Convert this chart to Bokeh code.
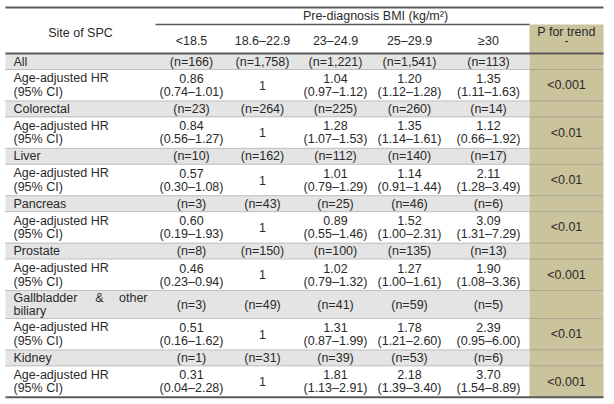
from bokeh.plotting import figure
from bokeh.models import Range1d, ColumnDataSource
from bokeh.core.properties import value
from bokeh.embed import file_html
from bokeh.resources import INLINE

# ---------------- data ----------------
sites = ["All", "Colorectal", "Liver", "Pancreas", "Prostate",
         "Gallbladder & other biliary", "Kidney"]
bmi_categories = ["<18.5", "18.6\u201322.9", "23\u201324.9", "25\u201329.9", "\u226530"]
n_counts = [
    [166, 1758, 1221, 1541, 113],
    [23, 264, 225, 260, 14],
    [10, 162, 112, 140, 17],
    [3, 43, 25, 46, 6],
    [8, 150, 100, 135, 13],
    [3, 49, 41, 59, 5],
    [1, 31, 39, 53, 6],
]
hr_values = [
    [0.86, 1, 1.04, 1.20, 1.35],
    [0.84, 1, 1.28, 1.35, 1.12],
    [0.57, 1, 1.01, 1.14, 2.11],
    [0.60, 1, 0.89, 1.52, 3.09],
    [0.46, 1, 1.02, 1.27, 1.90],
    [0.51, 1, 1.31, 1.78, 2.39],
    [0.31, 1, 1.81, 2.18, 3.70],
]
ci_lower = [
    [0.74, None, 0.97, 1.12, 1.11],
    [0.56, None, 1.07, 1.14, 0.66],
    [0.30, None, 0.79, 0.91, 1.28],
    [0.19, None, 0.55, 1.00, 1.31],
    [0.23, None, 0.79, 1.00, 1.08],
    [0.16, None, 0.87, 1.21, 0.95],
    [0.04, None, 1.13, 1.39, 1.54],
]
ci_upper = [
    [1.01, None, 1.12, 1.28, 1.63],
    [1.27, None, 1.53, 1.61, 1.92],
    [1.08, None, 1.29, 1.44, 3.49],
    [1.93, None, 1.46, 2.31, 7.29],
    [0.94, None, 1.32, 1.61, 3.36],
    [1.62, None, 1.99, 2.60, 6.00],
    [2.28, None, 2.91, 3.40, 8.89],
]
p_trend = ["<0.001", "<0.01", "<0.01", "<0.01", "<0.001", "<0.01", "<0.001"]

header_site = "Site of SPC"
header_bmi = "Pre-diagnosis BMI (kg/m\u00b2)"
header_p = "P for trend"
hr_label = ["Age-adjusted HR", "(95% CI)"]

# ---------------- layout ----------------
FONT = value("Liberation Sans")
TXT = "#2a2a2a"
FS = "12.5px"
LINE = "#5a5a5a"
TAN = "#cbc39c"
GRAY = "#e4e4e4"
DOT = "#8c8c8c"

W, H = 614, 404
X0, X1 = 5, 603
col_edges = [155, 226, 298, 372, 447, 529]
col_centers = [191, 262, 335, 409, 488]
p_center = 566
site_text_x = 13
site_text_right = 147

Y_TOP = 7
Y_BMI_LINE = 24
Y_HEAD = 53
N_H = 16
N_H2 = 28
HR_H = 31.4
LINE_GAP = 13.5

p = figure(width=W, height=H, x_range=Range1d(0, W), y_range=Range1d(H, 0),
           output_backend="svg", toolbar_location=None,
           x_axis_location=None, y_axis_location=None, min_border=0)
p.xgrid.visible = False
p.ygrid.visible = False
p.outline_line_color = None
p.background_fill_color = "white"
p.border_fill_color = "white"

# rows geometry
rows = []
y = Y_HEAD
for i, s in enumerate(sites):
    h = N_H2 if len(s) > 20 else N_H
    rows.append((y, y + h, y + h, y + h + HR_H))
    y += h + HR_H
Y_BOT = y

# backgrounds
gq = dict(left=[], right=[], top=[], bottom=[])
for (a, b, c, d) in rows:
    gq["left"].append(X0); gq["right"].append(col_edges[-1])
    gq["top"].append(a); gq["bottom"].append(b)
p.quad(source=ColumnDataSource(gq), left="left", right="right", top="top", bottom="bottom",
       fill_color=GRAY, line_color=None)
p.quad(left=[col_edges[-1]], right=[X1], top=[Y_BMI_LINE], bottom=[Y_BOT],
       fill_color=TAN, line_color=None)

# dotted separators
dy = []
for (a, b, c, d) in rows:
    dy.append(b)
for (a, b, c, d) in rows[1:]:
    dy.append(a)
p.segment(x0=[X0] * len(dy), x1=[X1] * len(dy), y0=dy, y1=dy,
          line_color=DOT, line_width=1, line_dash="1 1")

# solid rules
p.segment(x0=[X0, X0, X0], x1=[X1, X1, X1], y0=[Y_TOP, Y_HEAD, Y_BOT], y1=[Y_TOP, Y_HEAD, Y_BOT],
          line_color=LINE, line_width=2)
p.segment(x0=[col_edges[0]], x1=[col_edges[-1]], y0=[Y_BMI_LINE], y1=[Y_BMI_LINE],
          line_color=LINE, line_width=1.5)

# text collectors
T = dict(x=[], y=[], t=[], align=[])
def add(x, yy, t, align="center"):
    T["x"].append(x); T["y"].append(yy); T["t"].append(t); T["align"].append(align)

# headers
add((X0 + col_edges[0]) / 2, 32, header_site)
add(375, 15.5, header_bmi)
for cx, lab in zip(col_centers, bmi_categories):
    add(cx, 40, lab)
add(p_center, 31, header_p)
add(p_center, 40, "-")

def fmt(v):
    return "1" if v == 1 else f"{v:.2f}"

for i, (a, b, c, d) in enumerate(rows):
    s = sites[i]
    words = s.split()
    if len(s) > 20:
        first = words[:3]
        rest = " ".join(words[3:])
        add(site_text_x, a + 7.5, first[0], "left")
        add(99, a + 7.5, first[1], "center")
        add(site_text_right, a + 7.5, first[2], "right")
        add(site_text_x, a + 20.5, rest, "left")
    else:
        add(site_text_x, (a + b) / 2, s, "left")
    for j, cx in enumerate(col_centers):
        add(cx, (a + b) / 2, f"(n={n_counts[i][j]:,})")
    mid = (c + d) / 2
    add(site_text_x, mid - LINE_GAP / 2, hr_label[0], "left")
    add(site_text_x, mid + LINE_GAP / 2, hr_label[1], "left")
    for j, cx in enumerate(col_centers):
        v = hr_values[i][j]
        if ci_lower[i][j] is None:
            add(cx, mid, fmt(v))
        else:
            add(cx, mid - LINE_GAP / 2, fmt(v))
            add(cx, mid + LINE_GAP / 2, f"({ci_lower[i][j]:.2f}\u2013{ci_upper[i][j]:.2f})")
    add(p_center, mid, p_trend[i])

p.text(source=ColumnDataSource(T), x="x", y="y", text="t", text_align="align",
       text_baseline="middle", text_font=FONT, text_font_size=FS, text_color=TXT)

open("out.html", "w").write(file_html(p, INLINE))
